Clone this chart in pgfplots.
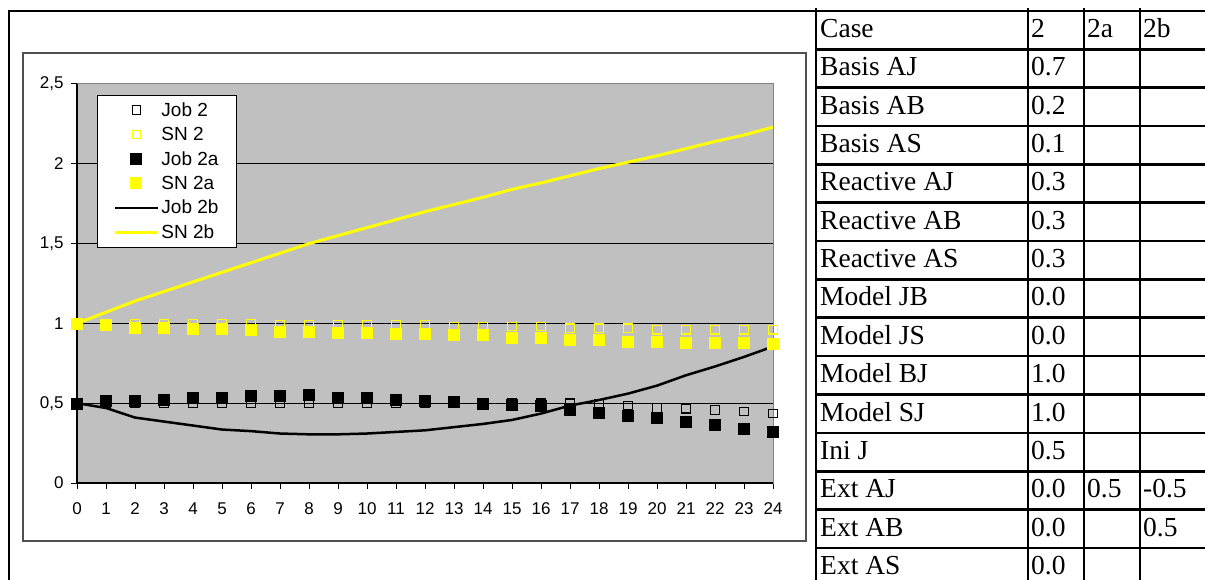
\documentclass[border=0pt]{standalone}
\usepackage{fontspec}
\setmainfont{Liberation Serif}
\newfontfamily\arialfont{Liberation Sans}
\usepackage{pgfplots}
\usepackage{pgfplotstable}
\pgfplotsset{compat=1.18}

\definecolor{plotgray}{RGB}{192,192,192}
\definecolor{framegray}{RGB}{80,80,80}
\definecolor{boxgray}{RGB}{128,128,128}
\definecolor{xlyellow}{RGB}{255,255,0}

% values, one row per step
\pgfplotstableread{
x  job2   sn2   job2a  sn2a   job2b  sn2b
0  0.500  1.00  0.500  1.000  0.500  1.000
1  0.500  1.00  0.515  0.990  0.470  1.070
2  0.500  1.00  0.515  0.975  0.410  1.140
3  0.500  1.00  0.525  0.975  0.385  1.200
4  0.500  1.00  0.535  0.965  0.360  1.260
5  0.500  1.00  0.535  0.965  0.335  1.320
6  0.500  1.00  0.550  0.960  0.325  1.380
7  0.500  0.99  0.550  0.950  0.310  1.440
8  0.500  0.99  0.555  0.948  0.305  1.500
9  0.500  0.99  0.535  0.942  0.305  1.550
10 0.500  0.99  0.535  0.940  0.310  1.600
11 0.500  0.99  0.525  0.934  0.320  1.650
12 0.500  0.99  0.515  0.934  0.330  1.700
13 0.500  0.98  0.510  0.927  0.350  1.745
14 0.500  0.98  0.500  0.927  0.370  1.790
15 0.500  0.98  0.493  0.910  0.395  1.840
16 0.500  0.98  0.482  0.910  0.435  1.880
17 0.500  0.97  0.462  0.896  0.485  1.925
18 0.495  0.97  0.440  0.896  0.520  1.970
19 0.485  0.97  0.424  0.888  0.560  2.010
20 0.470  0.96  0.410  0.888  0.610  2.050
21 0.465  0.96  0.382  0.879  0.675  2.095
22 0.457  0.96  0.363  0.879  0.730  2.140
23 0.447  0.96  0.342  0.879  0.790  2.180
24 0.437  0.96  0.320  0.871  0.855  2.230
}\data

\begin{document}
\begin{tikzpicture}
\useasboundingbox (0,0) rectangle (1205pt,579pt);
\clip (0,0) rectangle (1205pt,579pt);

% chart frame
\draw[framegray, line width=1.6pt, fill=white] (23pt,38pt) rectangle (806pt,526pt);

\begin{axis}[
    at={(77pt,96pt)}, anchor=south west,
    scale only axis, width=696pt, height=399pt,
    xmin=0, xmax=24, ymin=0, ymax=2.5,
    clip=false,
    axis background/.style={fill=plotgray},
    axis line style={draw=boxgray, line width=1pt},
    xtick={0,...,24},
    ytick={0,0.5,1,1.5,2,2.5},
    yticklabels={0,{0,5},1,{1,5},2,{2,5}},
    extra y ticks={0.5,1,1.5,2},
    extra y tick labels={},
    extra y tick style={grid=major, major tick length=0pt},
    grid style={black, line width=1.3pt},
    xtick pos=bottom, ytick pos=left,
    tick align=outside, major tick length=6pt,
    tick style={black, line width=1pt},
    /pgf/number format/assume math mode=true,
    tick label style={font=\arialfont\fontsize{17}{17}\selectfont},
    xticklabel style={yshift=-10pt},
    yticklabel style={xshift=-4pt},
    legend style={at={(0.0287,0.9724)}, anchor=north west,
        draw=black, line width=1pt, fill=white,
        font=\arialfont\fontsize{19}{19}\selectfont,
        inner xsep=16pt, inner ysep=5pt, row sep=5.4pt,
        /tikz/every even column/.append style={column sep=7pt}},
    legend cell align=left,
    legend image code/.code={\draw[mark repeat=2,mark phase=2,#1]
        plot coordinates {(0pt,0pt) (21.5pt,0pt) (43pt,0pt)};},
]
\draw[black, line width=1.3pt] (rel axis cs:0,1) -- (rel axis cs:0,0) -- (rel axis cs:1,0);
\addplot[only marks, mark=square, mark size=4.2pt, mark options={draw=black, line width=1.1pt}]
    table[x=x, y=job2] {\data};
\addplot[only marks, mark=square, mark size=4.2pt, mark options={draw=xlyellow, line width=1.1pt}]
    table[x=x, y=sn2] {\data};
\addplot[only marks, mark=square*, mark size=5.5pt, mark options={draw=black, fill=black}]
    table[x=x, y=job2a] {\data};
\addplot[only marks, mark=square*, mark size=5.5pt, mark options={draw=xlyellow, fill=xlyellow}]
    table[x=x, y=sn2a] {\data};
\addplot[black, line width=2.5pt, no marks] table[x=x, y=job2b] {\data};
\addplot[xlyellow, line width=3pt, no marks] table[x=x, y=sn2b] {\data};
\legend{Job 2, SN 2, Job 2a, SN 2a, Job 2b, SN 2b}
\end{axis}

% surrounding table and parameter table
\begin{scope}[x=1pt, y=-1pt, yshift=579pt]
\draw[line width=2.6pt] (9,590) -- (9,11) -- (1215,11);
\foreach \xx in {816,1028,1084,1140}
    \draw[line width=2.6pt] (\xx,8) -- (\xx,590);
\foreach \k in {1,...,14}
    \draw[line width=2.6pt] (816,{11+38.35*\k}) -- (1215,{11+38.35*\k});
\foreach \lab/\va [count=\k from 0] in {Case/2, Basis AJ/0.7, Basis AB/0.2, Basis AS/0.1,
    Reactive AJ/0.3, Reactive AB/0.3, Reactive AS/0.3, Model JB/0.0, Model JS/0.0,
    Model BJ/1.0, Model SJ/1.0, Ini J/0.5, Ext AJ/0.0, Ext AB/0.0, Ext AS/0.0} {
    \node[anchor=base west, inner sep=0pt, font=\fontsize{27.5}{30}\selectfont]
        at (820,{11+38.35*\k+26.5}) {\lab};
    \node[anchor=base west, inner sep=0pt, font=\fontsize{27.5}{30}\selectfont]
        at (1031,{11+38.35*\k+26.5}) {\va};
}
\node[anchor=base west, inner sep=0pt, font=\fontsize{27.5}{30}\selectfont] at (1087,37.5) {2a};
\node[anchor=base west, inner sep=0pt, font=\fontsize{27.5}{30}\selectfont] at (1143,37.5) {2b};
\node[anchor=base west, inner sep=0pt, font=\fontsize{27.5}{30}\selectfont] at (1087,{11+38.35*12+26.5}) {0.5};
\node[anchor=base west, inner sep=0pt, font=\fontsize{27.5}{30}\selectfont] at (1143,{11+38.35*12+26.5}) {-0.5};
\node[anchor=base west, inner sep=0pt, font=\fontsize{27.5}{30}\selectfont] at (1143,{11+38.35*13+26.5}) {0.5};
\end{scope}
\end{tikzpicture}
\end{document}
